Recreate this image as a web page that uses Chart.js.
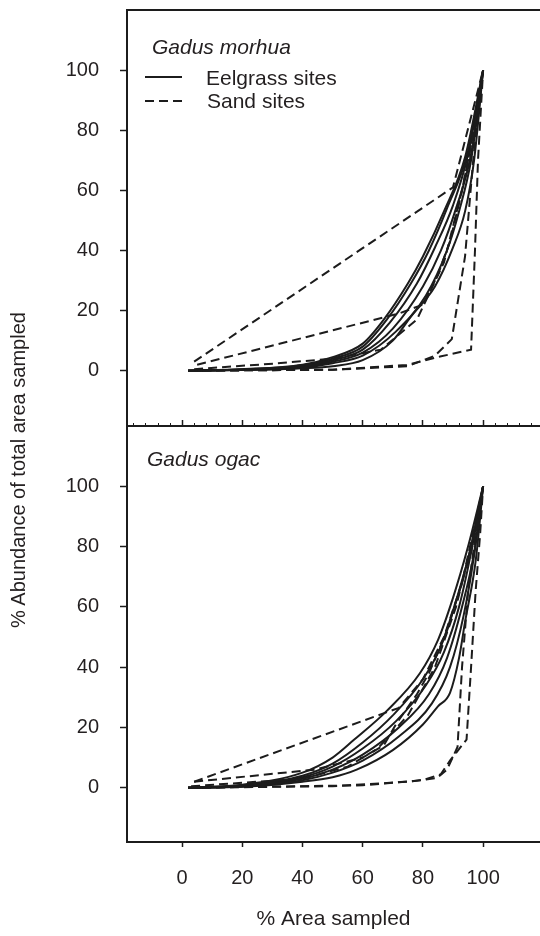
<!DOCTYPE html>
<html>
<head>
<meta charset="utf-8">
<script src="https://cdn.jsdelivr.net/npm/chart.js@4.4.1/dist/chart.umd.min.js"></script>
<style>
  body { margin: 0; background: #fff; }
  #wrap { position: relative; width: 540px; height: 936px; overflow: hidden; font-family: 'Liberation Sans', Arial, sans-serif; color: #231f20; }
  canvas { position: absolute; left: 0; }
  .lbl { position: absolute; white-space: nowrap; font-size: 21px; line-height: 21px; }
  .it { font-style: italic; }
  #ytitle { position: absolute; left: -182px; top: 458px; width: 400px; text-align: center; font-size: 20px; line-height: 24px; transform: rotate(-90deg); }
</style>
</head>
<body>
<div id="wrap">
  <canvas id="morhua" width="540" height="430" style="top:0"></canvas>
  <canvas id="ogac" width="540" height="520" style="top:416px"></canvas>
  <div class="lbl it" style="left:152px; top:36px">Gadus morhua</div>
  <svg style="position:absolute; left:140px; top:68px" width="50" height="44">
    <line x1="5" y1="9" x2="42" y2="9" stroke="#1c1c1c" stroke-width="2"/>
    <line x1="5" y1="33" x2="42" y2="33" stroke="#1c1c1c" stroke-width="2" stroke-dasharray="9 5"/>
  </svg>
  <div class="lbl" style="left:206px; top:67px">Eelgrass sites</div>
  <div class="lbl" style="left:207px; top:90px">Sand sites</div>
  <div class="lbl it" style="left:147px; top:448px">Gadus ogac</div>
  <div id="ytitle">% Abundance of total area sampled</div>
</div>
<script>
// tick values
const xTicks = [0, 20, 40, 60, 80, 100]
const yTicks = [0, 20, 40, 60, 80, 100]
const xMinorTicks = [-16, -12, -8, -4, 4, 8, 12, 16, 24, 28, 32, 36, 44, 48, 52, 56, 64, 68, 72, 76, 84, 88, 92, 96, 104, 108, 112, 116]

// Gadus morhua - eelgrass sites (solid)
const morhuaEelX = [
    [2, 20, 40, 50, 60, 67, 75, 80, 87, 94, 100],
    [2, 20, 40, 50, 60, 68, 76, 82, 88, 95, 100],
    [2, 20, 40, 50, 60, 69, 78, 84, 90, 95, 100],
    [2, 20, 40, 50, 60, 70, 80, 86, 91, 96, 100],
    [2, 20, 40, 50, 60, 71, 81, 88, 92, 96, 100],
    [2, 20, 40, 50, 60, 70, 76, 84, 90, 94, 97, 100]
]
const morhuaEelY = [
    [0, 0.5, 2, 4.5, 9, 17, 29, 38, 53, 71, 100],
    [0, 0.4, 1.8, 4, 8, 17, 29, 40, 54, 73, 100],
    [0, 0.4, 1.5, 3.5, 7, 16, 29, 41, 55, 72, 100],
    [0, 0.3, 1.2, 3, 6, 14, 28, 40, 54, 72, 100],
    [0, 0.3, 1, 2.5, 5, 13, 25, 40, 53, 70, 100],
    [0, 0.2, 0.8, 1.5, 3.5, 10, 18, 28, 41, 53, 70, 100]
]
// Gadus morhua - sand sites (dashed)
const morhuaSandX = [
    [4, 90, 100],
    [5, 72, 80, 85, 89, 93, 97, 100],
    [4, 31, 51, 66, 78, 87, 93, 97, 100],
    [2, 50, 75, 84, 89.6, 94, 96.7, 100],
    [2, 50, 74.6, 85.7, 96, 97.3, 98.3, 100]
]
const morhuaSandY = [
    [3, 61, 100],
    [2, 19, 22, 32, 43, 60, 80, 100],
    [0.5, 2.4, 4.1, 7, 17, 36, 60, 80, 100],
    [0, 0.3, 1.5, 5, 10.5, 38, 70, 100],
    [0, 0.3, 1.9, 4.7, 7, 40, 70, 100]
]

// Gadus ogac - eelgrass sites (solid)
const ogacEelX = [
    [2, 20, 40, 50, 57, 68, 79, 85, 90, 95, 100],
    [2, 20, 40, 50, 60, 70, 80, 86, 91, 96, 100],
    [2, 20, 40, 50, 60, 71, 81, 87, 92, 96, 100],
    [2, 20, 40, 50, 60, 72, 82, 88, 93, 97, 100],
    [2, 20, 40, 50, 60, 72, 83, 89, 93.5, 97, 100],
    [2, 20, 40, 50, 58, 70, 80, 85, 89, 92, 94, 97.5, 100]
]
const ogacEelY = [
    [0, 1, 5, 10, 15.8, 25.5, 38, 49, 63, 80, 100],
    [0, 0.8, 4, 8, 15, 24, 36, 47, 62, 80, 100],
    [0, 0.6, 3.5, 7, 13, 22, 34, 45, 60, 78, 100],
    [0, 0.5, 3, 6, 11, 20, 31, 43, 60, 78, 100],
    [0, 0.4, 2.5, 5, 9, 17, 28, 40, 57, 77, 100],
    [0, 0.3, 2, 3.5, 6, 12.5, 21, 27, 31.5, 43, 55, 75, 100]
]
// Gadus ogac - sand sites (dashed)
const ogacSandX = [
    [4, 72, 80, 87, 93, 100],
    [4, 44, 60, 67, 71, 78, 82, 88, 93, 97, 100],
    [3, 40, 55, 65, 75, 84, 91, 96, 100],
    [2, 50, 75, 84.6, 88, 91.5, 93, 95, 97.5, 100],
    [2, 60, 80, 86, 89, 94.5, 96, 97.5, 99, 100]
]
const ogacSandY = [
    [2, 26.5, 36, 50, 68, 100],
    [2, 6, 10, 14, 21, 31, 38, 52, 68, 82, 100],
    [0.5, 3, 7, 13, 24, 40, 60, 80, 100],
    [0, 0.5, 2, 3.2, 6, 13.5, 40, 65, 84, 100],
    [0, 0.8, 2.5, 4.5, 9, 16, 40, 65, 84, 100]
]

const ink = '#1c1c1c'
const txt = '#231f20'
Chart.defaults.font.family = "'Liberation Sans', Arial, sans-serif"
Chart.defaults.color = txt

function toPoints(xs, ys) {
    let pts = []
    for (let i = 0; i < xs.length; i++) {
        pts.push({x: xs[i], y: ys[i]})
    }
    return pts
}

function buildDatasets(eelX, eelY, sandX, sandY) {
    let sets = []
    for (let i = 0; i < sandX.length; i++) {
        sets.push({
            data: toPoints(sandX[i], sandY[i]),
            borderColor: ink,
            borderWidth: 2,
            borderDash: [9, 5],
            tension: 0
        })
    }
    for (let i = 0; i < eelX.length; i++) {
        sets.push({
            data: toPoints(eelX[i], eelY[i]),
            borderColor: ink,
            borderWidth: 2,
            cubicInterpolationMode: 'monotone'
        })
    }
    return sets
}

function setTicks(values) {
    return function (scale) {
        scale.ticks = values.map(v => ({value: v}))
    }
}

const xRange = {min: -18.3, max: 118.9}

const yAxis = (min) => ({
    min: min,
    max: 120,
    afterBuildTicks: setTicks(yTicks),
    // fixed width, and no extra room reserved for edge labels
    afterFit: s => { s.width = 127; s.paddingTop = 0; s.paddingBottom = 0 },
    ticks: {padding: 21, font: {size: 20}, color: txt},
    grid: {drawOnChartArea: false, tickLength: 7, tickWidth: 1.5, tickColor: ink},
    border: {display: true, width: 2, color: ink}
})

const hiddenX = (pos, showBorder) => ({
    type: 'linear', position: pos, min: xRange.min, max: xRange.max,
    afterFit: s => { s.height = 0; s.paddingLeft = 0; s.paddingRight = 0 },
    ticks: {display: false},
    grid: {display: false},
    border: {display: showBorder, width: 2, color: ink}
})

const morhuaChart = new Chart(document.getElementById('morhua'), {
    type: 'line',
    data: {datasets: buildDatasets(morhuaEelX, morhuaEelY, morhuaSandX, morhuaSandY)},
    options: {
        responsive: false,
        animation: false,
        layout: {padding: {top: 10, bottom: 4, left: 0, right: 0}},
        elements: {point: {radius: 0}},
        plugins: {legend: {display: false}, tooltip: {enabled: false}},
        scales: {
            x: hiddenX('bottom', false),
            xTop: hiddenX('top', true),
            y: yAxis(-18.4)
        }
    }
})

const ogacChart = new Chart(document.getElementById('ogac'), {
    type: 'line',
    data: {datasets: buildDatasets(ogacEelX, ogacEelY, ogacSandX, ogacSandY)},
    options: {
        responsive: false,
        animation: false,
        layout: {padding: {top: 10, bottom: 4, left: 0, right: 0}},
        elements: {point: {radius: 0}},
        plugins: {legend: {display: false}, tooltip: {enabled: false}},
        scales: {
            x: {
                type: 'linear', position: 'bottom', min: xRange.min, max: xRange.max,
                afterBuildTicks: setTicks(xTicks),
                afterFit: s => { s.height = 90; s.paddingLeft = 0; s.paddingRight = 0 },
                ticks: {padding: 19, font: {size: 20}, color: txt},
                grid: {drawOnChartArea: false, tickLength: 5, tickWidth: 1.5, tickColor: ink},
                border: {display: true, width: 2, color: ink},
                title: {display: true, text: '% Area sampled', font: {size: 21}, color: txt, padding: {top: 0, bottom: 0}}
            },
            // ticks pointing up into the upper panel
            xMajor: {
                type: 'linear', position: 'top', min: xRange.min, max: xRange.max,
                afterBuildTicks: setTicks(xTicks),
                afterFit: s => { s.height = 0; s.paddingLeft = 0; s.paddingRight = 0 },
                ticks: {display: false},
                grid: {drawOnChartArea: false, tickLength: 6, tickWidth: 1.5, tickColor: ink},
                border: {display: true, width: 2, color: ink}
            },
            xMinor: {
                type: 'linear', position: 'top', min: xRange.min, max: xRange.max,
                afterBuildTicks: setTicks(xMinorTicks),
                afterFit: s => { s.height = 0; s.paddingLeft = 0; s.paddingRight = 0 },
                ticks: {display: false},
                grid: {drawOnChartArea: false, tickLength: 3, tickWidth: 1, tickColor: ink},
                border: {display: false}
            },
            y: yAxis(-18)
        }
    }
})
</script>
</body>
</html>
